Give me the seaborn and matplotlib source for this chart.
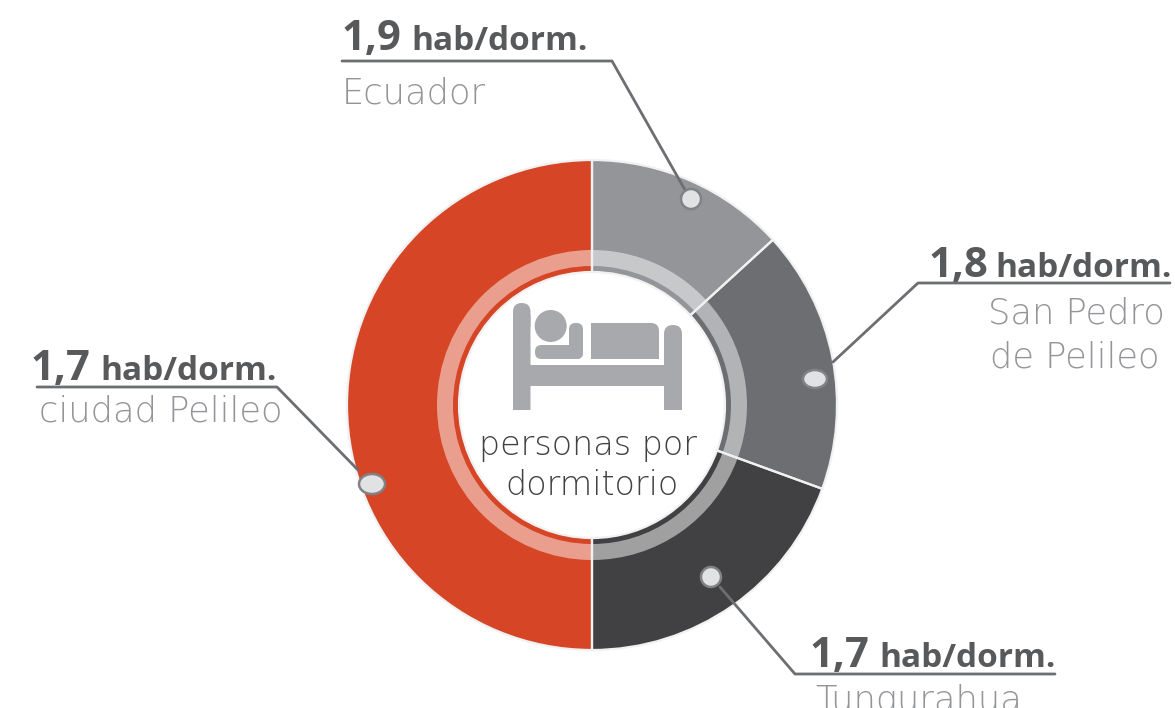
import matplotlib.pyplot as plt
import seaborn as sns
from matplotlib.patches import Circle, Ellipse, FancyBboxPatch

# Datos del gráfico (el arco de cada sector se lee de la imagen)
territorios = ['Ecuador', 'San Pedro\nde Pelileo', 'Tungurahua', 'ciudad Pelileo']
valores = ['1,9', '1,8', '1,7', '1,7']
arcos = [47.6, 62.4, 70.0, 180.0]
unidad = 'hab/dorm.'
titulo_centro = ['personas por', 'dormitorio']

colores = ['#939598', '#6D6E71', '#414042', '#D54526']
colores_aro = ['#C7C8CA', '#B1B3B5', '#A0A0A1', '#EA9F8E']

GRIS_TEXTO = '#58595B'
GRIS_CLARO = '#939598'
GRIS_CENTRO = '#404143'
FUENTE_BOLD = 'Open Sans'
FUENTE = 'DejaVu Sans'


def dibujar_cama(ax):
    """Icono de la cama, en píxeles de la imagen."""
    c = '#A7A9AC'
    def barra(x, y, w, h, r=0.0):
        ax.add_patch(FancyBboxPatch((x + r, y + r), w - 2 * r, h - 2 * r,
                                    boxstyle=f'round,pad={r},rounding_size={r}',
                                    fc=c, ec='none', zorder=5))
    barra(513, 303, 17.5, 30, 8.7)
    barra(513, 315, 17.5, 95)
    barra(664, 325, 18, 30, 8.9)
    barra(664, 335, 18, 75)
    barra(530, 365, 134, 21)
    ax.add_patch(Circle((550.7, 326), 16, fc=c, ec='none', zorder=5))
    barra(535, 345, 48, 14, 6.5)
    barra(569, 323, 14, 36, 6.5)
    barra(640, 323, 19, 24, 8)
    barra(591, 323, 60, 36)
    barra(640, 335, 19, 24)


def etiqueta(ax, valor, x_valor, x_fin, y_base):
    ax.text(x_valor, y_base, valor, fontsize=30, fontweight='bold',
            color=GRIS_TEXTO, family=FUENTE_BOLD, ha='left', va='baseline')
    ax.text(x_fin, y_base, unidad, fontsize=24, fontweight='bold',
            color=GRIS_TEXTO, family=FUENTE_BOLD, ha='right', va='baseline')


def texto(ax, x, y, s, color=GRIS_CLARO, ha='left', size=25.4):
    ax.text(x, y, s, fontsize=size, fontweight='light', color=color,
            family=FUENTE, ha=ha, va='baseline')


def gerar_grafico():
    sns.set_theme(style='white')
    fig = plt.figure(figsize=(11.75, 7.08), dpi=100)
    ax = fig.add_axes([0, 0, 1, 1])

    centro = (592, 405)
    ax.pie(arcos, colors=sns.color_palette(colores), radius=245, center=centro,
           startangle=-90, counterclock=True,
           wedgeprops=dict(width=112, edgecolor='none', linewidth=0))
    ax.pie(arcos, colors=sns.color_palette(colores_aro), radius=155, center=centro,
           startangle=-90, counterclock=True,
           wedgeprops=dict(width=16, edgecolor='none', linewidth=0))
    # lineas blancas entre sectores por encima del aro claro
    ax.pie(arcos, colors=['none'] * 4, radius=245, center=centro,
           startangle=-90, counterclock=True,
           wedgeprops=dict(width=112, edgecolor='#F1F1F2', linewidth=1.6))

    ax.set_xlim(0, 1175)
    ax.set_ylim(708, 0)
    ax.set_aspect('auto')
    ax.axis('off')

    # Lineas guia y marcadores
    guias = [
        ([342, 612, 685], [61, 61, 190], (691, 199), 10, 10),
        ([1170, 918, 833], [283, 283, 362], (815, 379), 12, 9),
        ([1055, 795, 720], [674, 674, 587], (711, 577), 10, 10),
        ([37, 277, 358], [387, 387, 470], (372, 484), 13, 10),
    ]
    for xs, ys, pos, rx, ry in guias:
        ax.plot(xs, ys, color='#6D6E71', lw=2, solid_capstyle='round', zorder=4)
        ax.add_patch(Ellipse(pos, 2 * rx, 2 * ry, fc='#E1E2E3', ec='#808285',
                             lw=1.8, zorder=6))

    # Etiquetas
    etiqueta(ax, valores[0], 342, 588, 50)
    texto(ax, 342, 103, territorios[0])

    etiqueta(ax, valores[1], 929, 1172, 277)
    lineas = territorios[1].split('\n')
    texto(ax, 1165, 323, lineas[0], ha='right')
    texto(ax, 1159, 367, lineas[1], ha='right')

    etiqueta(ax, valores[2], 810, 1056, 667)
    texto(ax, 815, 711, territorios[2])

    etiqueta(ax, valores[3], 31, 277, 380)
    texto(ax, 39, 422, territorios[3])

    # Centro
    dibujar_cama(ax)
    texto(ax, 588, 455, titulo_centro[0], color=GRIS_CENTRO, ha='center', size=24)
    texto(ax, 592, 495, titulo_centro[1], color=GRIS_CENTRO, ha='center', size=24)

    fig.savefig('out.png', dpi=100)
    plt.close('all')


if __name__ == '__main__':
    gerar_grafico()
